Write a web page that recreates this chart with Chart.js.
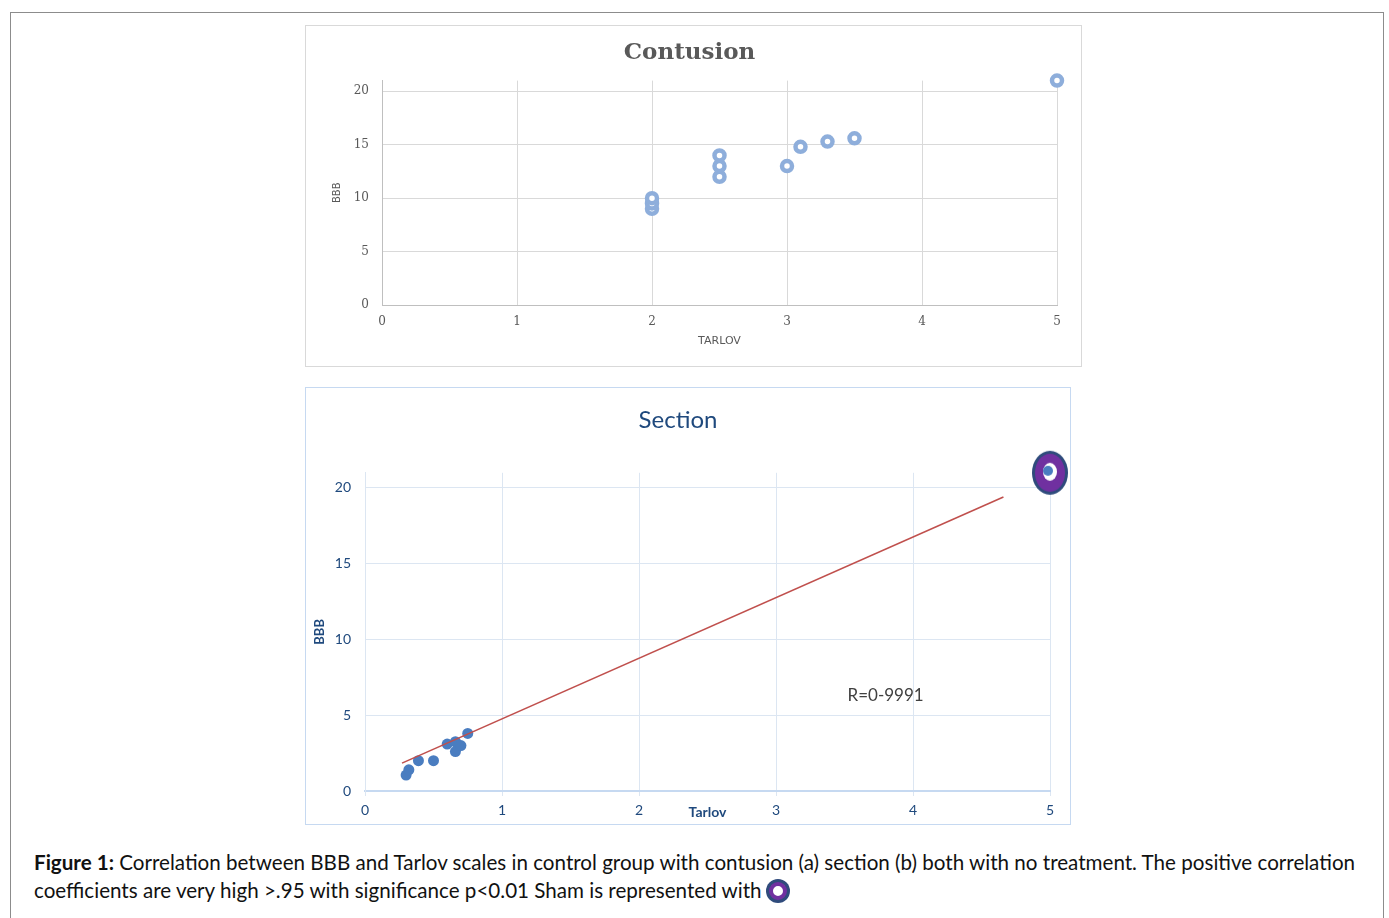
<!DOCTYPE html>
<html>
<head>
<meta charset="utf-8">
<script src="https://cdn.jsdelivr.net/npm/chart.js@4.4.1/dist/chart.umd.min.js"></script>
<style>
  body { margin: 0; background: #fff; }
  #frame { position: absolute; left: 10px; top: 12px; width: 1372px; height: 920px; border: 1px solid #8c8c8c; }
  .box { position: absolute; background: #fff; }
  #boxTop { left: 305px; top: 25px; width: 775px; height: 340px; border: 1px solid #d9d9d9; }
  #boxBot { left: 305px; top: 387px; width: 764px; height: 436px; border: 1px solid #c6d9f1; }
  .box canvas { position: absolute; left: 0; top: 0; }
  #caption { position: absolute; left: 34px; top: 848px; font-family: Lato, "Noto Sans", sans-serif; font-size: 20.6px; line-height: 28px; color: #111; white-space: nowrap; }
  #caption b { font-weight: 700; }
  .sham { display: inline-block; width: 10px; height: 10px; border-radius: 50%; border: 4px solid #7030a0; box-shadow: 0 0 0 3px #2f4b7c; vertical-align: -2px; margin-left: 7px; background: #fff; }
</style>
</head>
<body>
<div id="frame"></div>
<div class="box" id="boxTop"><canvas id="contusion" width="774" height="339"></canvas></div>
<div class="box" id="boxBot"><canvas id="section" width="763" height="435"></canvas></div>
<div id="caption"><b>Figure 1:</b> Correlation between BBB and Tarlov scales in control group with contusion (a) section (b) both with no treatment. The positive correlation<br>coefficients are very high &gt;.95 with significance p&lt;0.01 Sham is represented with<span class="sham"></span></div>

<script>
// Contusion (a)
const contusionTarlov = [2, 2, 2, 2.5, 2.5, 2.5, 3, 3.1, 3.3, 3.5, 5];
const contusionBBB = [9, 9.5, 10, 12, 13, 14, 13, 14.8, 15.3, 15.6, 21];

// Section (b)
const sectionTarlov = [0.3, 0.32, 0.39, 0.5, 0.6, 0.66, 0.66, 0.7, 0.75];
const sectionBBB = [1.05, 1.4, 2.0, 2.0, 3.1, 3.25, 2.6, 3.0, 3.8];
const shamTarlov = [5];
const shamBBB = [21];
const trendTarlov = [0.27, 4.66];
const trendBBB = [1.84, 19.4];
const rLabel = "R=0-9991";

const xTicks = [0, 1, 2, 3, 4, 5];
const yTicks = [0, 5, 10, 15, 20];

const toPoints = (xs, ys) => xs.map((x, i) => ({ x: x, y: ys[i] }));
const keepTicks = list => scale => { scale.ticks = list.map(v => ({ value: v })); };

// sham marker: blue ring with purple band
function shamMarker() {
    const c = document.createElement("canvas");
    c.width = 38; c.height = 46;
    const g = c.getContext("2d");
    g.fillStyle = "#2f4b7c";
    g.beginPath(); g.ellipse(19, 23, 18, 22, 0, 0, Math.PI * 2); g.fill();
    g.fillStyle = "#7030a0";
    g.beginPath(); g.ellipse(19, 23, 15, 19, 0, 0, Math.PI * 2); g.fill();
    g.fillStyle = "#ffffff";
    g.beginPath(); g.ellipse(19, 22, 7, 9, 0, 0, Math.PI * 2); g.fill();
    g.fillStyle = "#4a7dc0";
    g.beginPath(); g.arc(17, 21, 5, 0, Math.PI * 2); g.fill();
    return c;
}

new Chart(document.getElementById("contusion"), {
    type: "scatter",
    data: {
        datasets: [{
            data: toPoints(contusionTarlov, contusionBBB),
            pointRadius: 5,
            pointHoverRadius: 5,
            borderWidth: 4.5,
            borderColor: "#8eaedb",
            backgroundColor: "#ffffff",
            clip: false,
        }],
    },
    options: {
        responsive: false,
        animation: false,
        layout: { padding: { left: 16, right: 23, top: 0, bottom: 10 } },
        plugins: {
            legend: { display: false },
            tooltip: { enabled: false },
            title: {
                display: true,
                text: "Contusion",
                color: "#595959",
                font: { family: "DejaVu Serif", size: 23, weight: "bold" },
                padding: { top: 13, bottom: 14 },
            },
        },
        scales: {
            x: {
                type: "linear", min: 0, max: 5,
                afterBuildTicks: keepTicks(xTicks),
                afterFit: s => { s.height = 50; },
                grid: { color: "#d9d9d9", drawTicks: false },
                border: { color: "#bfbfbf" },
                ticks: { padding: 10, color: "#595959", font: { family: "DejaVu Serif", size: 12 } },
                title: { display: true, text: "TARLOV", color: "#595959", padding: { top: 4, bottom: 7 }, font: { family: "DejaVu Sans", size: 11 } },
            },
            y: {
                min: 0, max: 21,
                afterBuildTicks: keepTicks(yTicks),
                afterFit: s => { s.width = 60; },
                grid: { color: "#d9d9d9", drawTicks: false },
                border: { color: "#bfbfbf" },
                ticks: { padding: 13, color: "#595959", font: { family: "DejaVu Serif", size: 12 } },
                title: { display: true, text: "BBB", color: "#595959", padding: { top: 9, bottom: 0 }, font: { family: "DejaVu Sans", size: 10 } },
            },
        },
    },
});

const sectionText = {
    id: "sectionText",
    afterDraw(chart) {
        const { ctx, scales } = chart;
        ctx.save();
        ctx.textAlign = "center";
        ctx.textBaseline = "middle";
        ctx.fillStyle = "#1f497d";
        ctx.font = "bold 14px Lato";
        ctx.fillText("Tarlov", scales.x.getPixelForValue(2.5), chart.chartArea.bottom + 21);
        ctx.fillStyle = "#404040";
        ctx.font = "17px Lato";
        ctx.fillText(rLabel, scales.x.getPixelForValue(3.8), scales.y.getPixelForValue(6.3));
        ctx.restore();
    },
};

new Chart(document.getElementById("section"), {
    type: "scatter",
    data: {
        datasets: [
            {
                type: "line",
                data: toPoints(trendTarlov, trendBBB),
                borderColor: "#c0504d",
                borderWidth: 1.6,
                pointRadius: 0,
                fill: false,
            },
            {
                data: toPoints(sectionTarlov, sectionBBB),
                pointRadius: 5.5,
                pointHoverRadius: 5.5,
                borderWidth: 0,
                backgroundColor: "#4a7dc0",
            },
            {
                data: toPoints(shamTarlov, shamBBB),
                pointStyle: shamMarker(),
                borderWidth: 0,
                clip: false,
            },
        ],
    },
    options: {
        responsive: false,
        animation: false,
        layout: { padding: { left: 0, right: 19, top: 0, bottom: 0 } },
        plugins: {
            legend: { display: false },
            tooltip: { enabled: false },
            title: {
                display: true,
                text: "Section",
                color: "#1f497d",
                font: { family: "Lato", size: 24, weight: "normal" },
                padding: { top: 18, bottom: 38 },
            },
        },
        scales: {
            x: {
                type: "linear", min: 0, max: 5,
                afterBuildTicks: keepTicks(xTicks),
                afterFit: s => { s.height = 32; },
                grid: { color: "#dce6f2", tickLength: 5 },
                border: { color: "#c6d9f1", width: 2 },
                ticks: { padding: 6, color: "#1f497d", font: { family: "Lato", size: 14 } },
            },
            y: {
                min: 0, max: 21,
                afterBuildTicks: keepTicks(yTicks),
                afterFit: s => { s.width = 59; },
                grid: { color: "#dce6f2", drawTicks: false },
                border: { color: "#dce6f2" },
                ticks: { padding: 14, color: "#1f497d", font: { family: "Lato", size: 14 } },
                title: { display: true, text: "BBB", color: "#1f497d", padding: { top: 6, bottom: 0 }, font: { family: "Lato", size: 13, weight: "bold" } },
            },
        },
    },
    plugins: [sectionText],
});
</script>
</body>
</html>
